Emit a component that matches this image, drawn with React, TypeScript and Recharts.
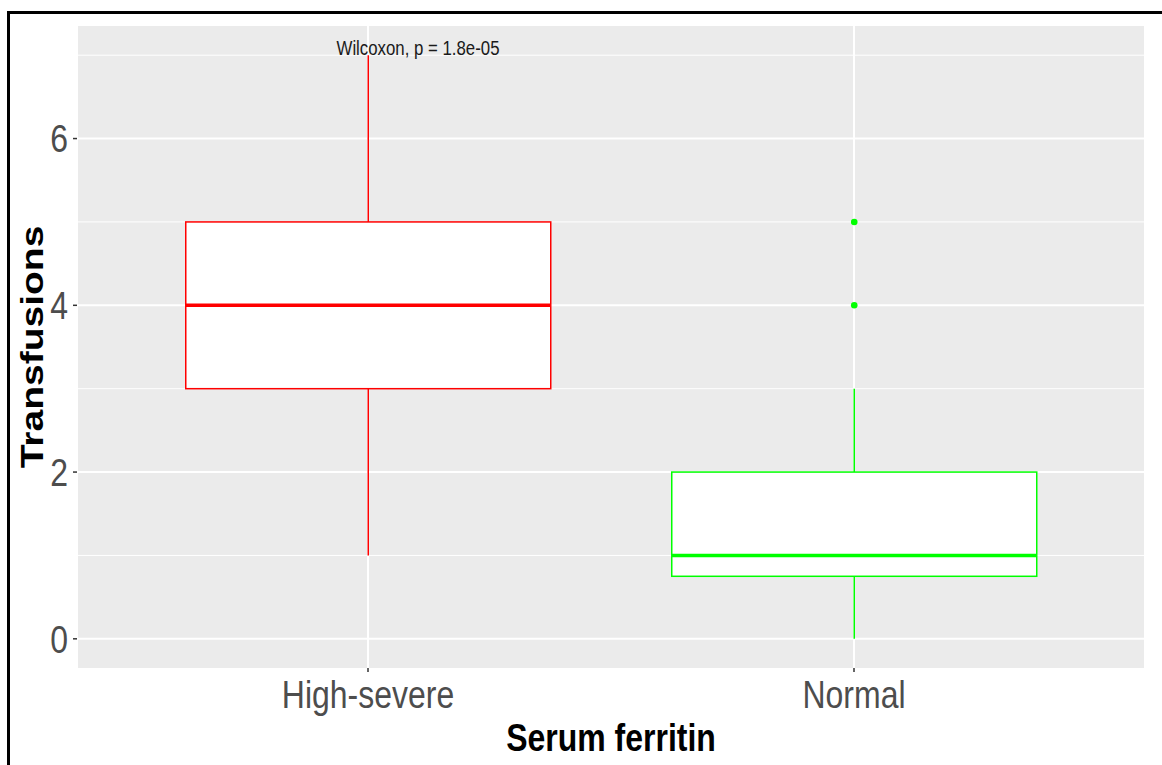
import { ComposedChart, Bar, XAxis, YAxis, CartesianGrid, ReferenceDot, Label } from 'recharts'

// Box plot summaries per ferritin group
const categories = ['High-severe', 'Normal']
const whiskerLow = [1, 0]
const lowerQuartile = [3, 0.75]
const medians = [4, 1]
const upperQuartile = [5, 2]
const whiskerHigh = [7, 3]
const outliers: number[][] = [[], [4, 5]]
const boxColors = ['#FF0000', '#00FF00']

const majorTicks = [0, 2, 4, 6]
const minorTicks = [1, 3, 5, 7]
const pValueText = 'Wilcoxon, p = 1.8e-05'

const rows = categories.map((cat, i) => ({
  cat,
  range: [whiskerLow[i], whiskerHigh[i]],
  lo: whiskerLow[i],
  q1: lowerQuartile[i],
  med: medians[i],
  q3: upperQuartile[i],
  hi: whiskerHigh[i],
  out: outliers[i],
  color: boxColors[i],
}))

const sans = '"Liberation Sans", Arial, sans-serif'
// text is condensed horizontally, like an Arial Narrow face
const squeeze = 0.82

// draws whiskers, box, median and outliers from the bar's range geometry
function BoxShape(props: any) {
  const { x, y, width, height, payload } = props
  const { lo, q1, med, q3, hi, out, color } = payload
  const px = (v: number) => y + ((hi - v) / (hi - lo)) * height
  const cx = x + width / 2
  return (
    <g>
      <line x1={cx} x2={cx} y1={px(hi)} y2={px(q3)} stroke={color} strokeWidth={1.5} />
      <line x1={cx} x2={cx} y1={px(q1)} y2={px(lo)} stroke={color} strokeWidth={1.5} />
      <rect x={x} y={px(q3)} width={width} height={px(q1) - px(q3)} fill="#fff" stroke={color} strokeWidth={1.5} />
      <line x1={x} x2={x + width} y1={px(med)} y2={px(med)} stroke={color} strokeWidth={3.5} />
      {out.map((v: number) => (
        <circle key={v} cx={cx} cy={px(v)} r={3.3} fill={color} />
      ))}
    </g>
  )
}

function XTick(props: any) {
  const { x, y, payload } = props
  return (
    <g transform={`translate(${x}, ${y})`}>
      <text transform={`scale(${squeeze}, 1)`} textAnchor="middle" dy="0.71em" fontFamily={sans} fontSize={39} fill="#4D4D4D">
        {payload.value}
      </text>
    </g>
  )
}

function YTick(props: any) {
  const { x, y, payload } = props
  return (
    <g transform={`translate(${x}, ${y})`}>
      <text transform={`scale(${squeeze}, 1)`} textAnchor="end" dy="0.355em" fontFamily={sans} fontSize={39} fill="#4D4D4D">
        {payload.value}
      </text>
    </g>
  )
}

function XTitle(props: any) {
  const { viewBox } = props
  const cx = viewBox.x + viewBox.width / 2
  return (
    <text
      transform={`translate(${cx}, 751) scale(${squeeze}, 1)`}
      textAnchor="middle"
      fontFamily={sans}
      fontWeight="bold"
      fontSize={39}
      fill="#000"
    >
      Serum ferritin
    </text>
  )
}

function YTitle(props: any) {
  const { viewBox } = props
  const cy = viewBox.y + viewBox.height / 2
  return (
    <text
      transform={`translate(32, ${cy}) rotate(-90) scale(1, ${squeeze})`}
      textAnchor="middle"
      dominantBaseline="central"
      fontFamily={sans}
      fontWeight="bold"
      fontSize={39}
      fill="#000"
    >
      Transfusions
    </text>
  )
}

function PValue(props: any) {
  const { cx, cy } = props
  return (
    <text
      transform={`translate(${cx + 50}, ${cy}) scale(${squeeze}, 1)`}
      textAnchor="middle"
      fontFamily={sans}
      fontSize={20.5}
      fill="#1a1a1a"
    >
      {pValueText}
    </text>
  )
}

export default function App() {
  return (
    <div style={{ position: 'absolute', left: 0, top: 0, width: 1162, height: 765, background: '#fff' }}>
      <div
        style={{
          position: 'absolute',
          left: 7,
          top: 11,
          right: 0,
          bottom: 0,
          borderLeft: '3px solid #000',
          borderTop: '3px solid #000',
        }}
      />
      <ComposedChart
        width={1162}
        height={765}
        data={rows}
        margin={{ top: 26, right: 17, bottom: 0, left: 0 }}
        barCategoryGap="12.5%"
      >
        <CartesianGrid fill="#EBEBEB" stroke="#fff" strokeWidth={1} vertical={false} horizontalValues={minorTicks} />
        <CartesianGrid stroke="#fff" strokeWidth={2} horizontalValues={majorTicks} />
        <XAxis
          dataKey="cat"
          type="category"
          height={97}
          padding={{ left: 48, right: 48 }}
          axisLine={false}
          tickSize={4}
          tickMargin={8}
          tickLine={{ stroke: '#333', strokeWidth: 1.5 }}
          tick={<XTick />}
        >
          <Label content={<XTitle />} />
        </XAxis>
        <YAxis
          type="number"
          width={77}
          domain={[-0.35, 7.35]}
          ticks={majorTicks}
          allowDataOverflow
          axisLine={false}
          tickSize={4}
          tickMargin={5}
          tickLine={{ stroke: '#333', strokeWidth: 1.5 }}
          tick={<YTick />}
          label={<YTitle />}
        />
        <Bar dataKey="range" shape={<BoxShape />} isAnimationActive={false} />
        <ReferenceDot x="High-severe" y={7} r={0} shape={<PValue />} />
      </ComposedChart>
    </div>
  )
}
